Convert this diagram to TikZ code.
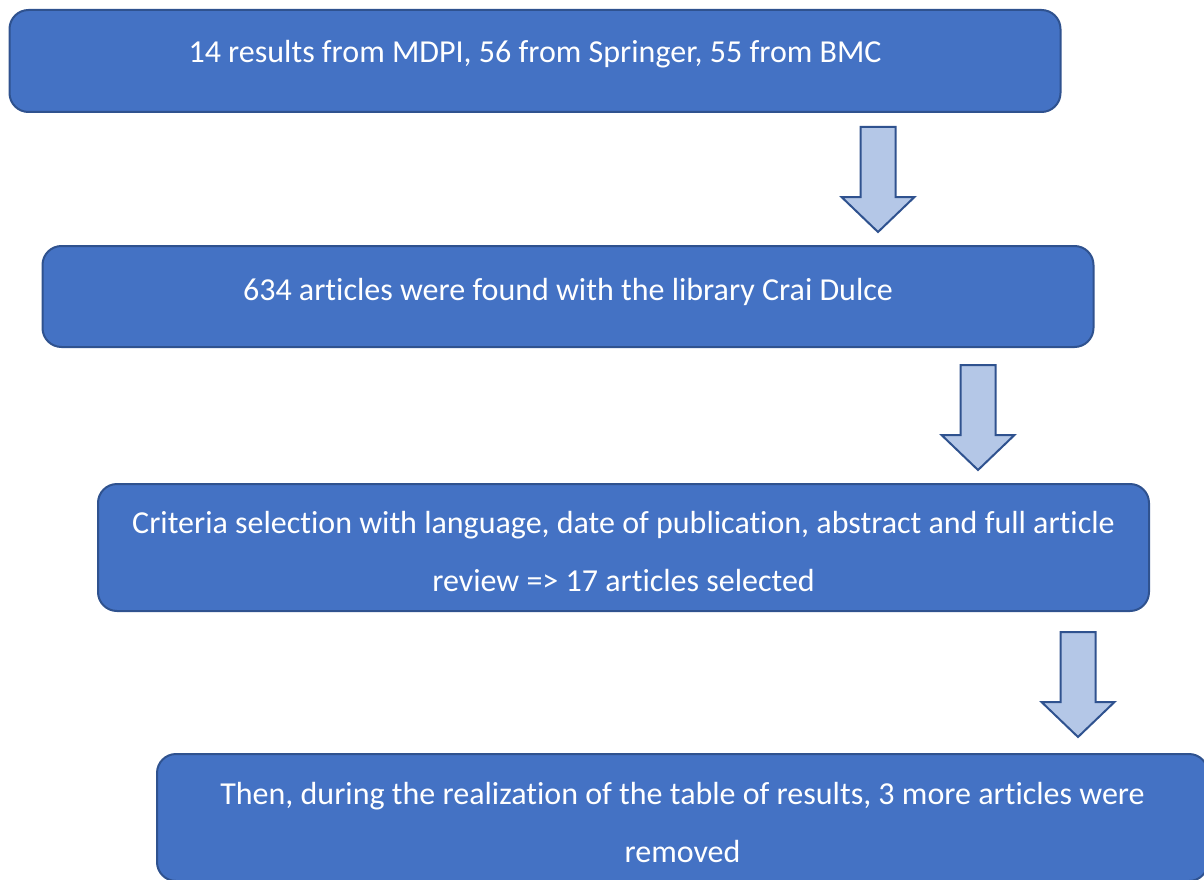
\documentclass[tikz,border=0pt]{standalone}
\usepackage{fontspec}
\setmainfont{Carlito}[Ligatures=NoCommon]
\usetikzlibrary{positioning}
\definecolor{boxblue}{HTML}{4472C4}
\definecolor{edgeblue}{HTML}{2F528F}
\definecolor{paleblue}{HTML}{B4C7E7}

\begin{document}
\begin{tikzpicture}[x=1pt,y=-1pt]
	\tikzset{
	%Define style for the stage boxes
	stage/.style={
		rectangle,
		rounded corners=19pt,
		draw=edgeblue, line width=2pt,
		fill=boxblue,
		minimum width=1051pt,
		inner sep=0pt},
	%Define style for the texts
	stagetext/.style={
		text=white,
		align=center,
		font=\fontsize{32}{58}\selectfont,
		inner sep=0pt,
		anchor=base},
	% Define block arrow style
	bigarrow/.style={
		draw=edgeblue, line width=2pt,
		fill=paleblue,
		line join=miter}
}
	\useasboundingbox (0,0) rectangle (1204,880);

	%boxes
	\node[stage, minimum height=102pt] at (535,61) (b1) {};
	\node[stage, minimum height=101pt] at (568,296.5) (b2) {};
	\node[stage, minimum height=127pt] at (623.5,547.5) (b3) {};
	\node[stage, minimum height=127pt] at (682.5,817.5) (b4) {};

	%texts (base = last line)
	\node[stagetext] at (535,63) (t1) {14 results from MDPI, 56 from Springer, 55 from BMC};
	\node[stagetext] at (568,300) (t2) {634 articles were found with the library Crai Dulce};
	\node[stagetext] at (623.5,591) (t3) {Criteria selection with language, date of publication, abstract and full article\\review => 17 articles selected};
	\node[stagetext] at (682.5,862) (t4) {Then, during the realization of the table of results, 3 more articles were\\removed};

	%block arrows
	\foreach \x/\y in {878/127, 978/365, 1078/632} {
		\draw[bigarrow] (\x-17.5,\y) -- (\x+17.5,\y) -- (\x+17.5,\y+70) -- (\x+36.5,\y+70)
			-- (\x,\y+105) -- (\x-36.5,\y+70) -- (\x-17.5,\y+70) -- cycle;
	}
\end{tikzpicture}
\end{document}
